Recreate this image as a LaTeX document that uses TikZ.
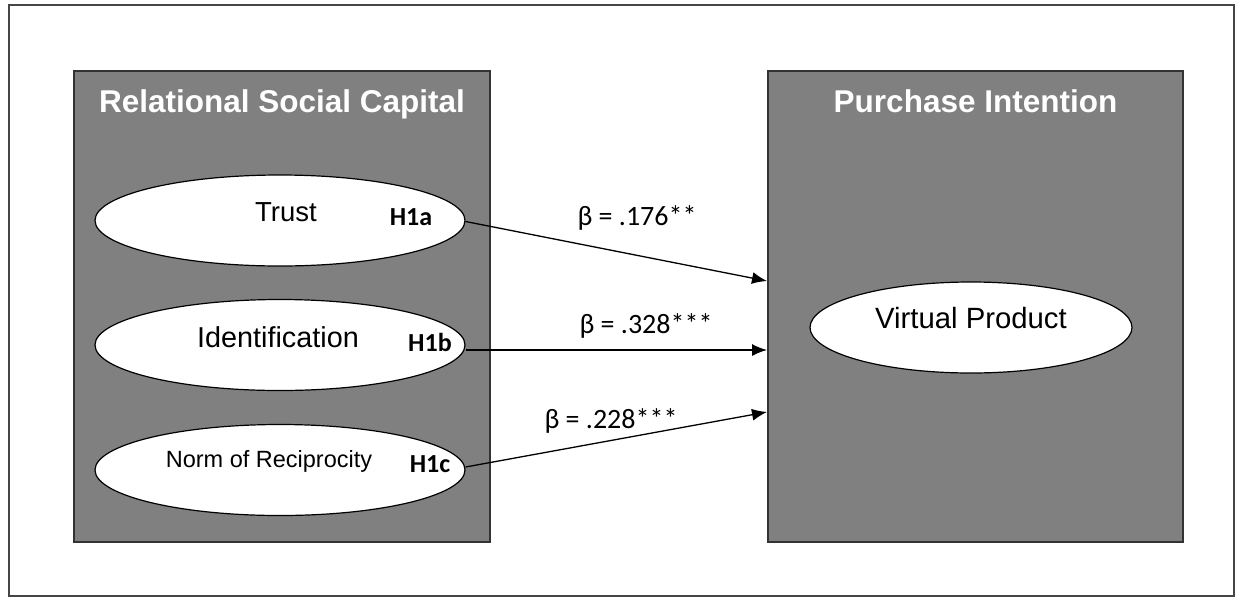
\documentclass[tikz,border=0pt]{standalone}
\usepackage{fontspec}
\setmainfont{Liberation Sans}
\newfontfamily\calfont{Carlito}
\usetikzlibrary{shapes.geometric,arrows.meta}
\definecolor{boxgray}{HTML}{808080}
\definecolor{edgegray}{HTML}{333333}
\definecolor{framegray}{HTML}{454545}
\tikzset{
  panel/.style={draw=edgegray, line width=2pt, fill=boxgray, inner sep=0pt, minimum width=416pt, minimum height=471pt},
  oval/.style={ellipse, draw=black, line width=1.2pt, fill=white, inner sep=0pt, minimum height=91pt},
  title/.style={anchor=base, inner sep=0pt, text=white, font=\fontsize{31.5}{36}\selectfont\bfseries},
  lbl/.style={anchor=base, inner sep=0pt, text=black},
  hyp/.style={anchor=base, inner sep=0pt, font=\calfont\fontsize{26}{30}\selectfont\bfseries},
  beta/.style={anchor=base, inner sep=0pt, font=\calfont\fontsize{28}{32}\selectfont},
  link/.style={draw=black, line width=1.3pt, -{Latex[length=15pt,width=12pt]}}
}
\begin{document}
\begin{tikzpicture}[x=1pt,y=-1pt]
\useasboundingbox (0,0) rectangle (1239,598);
\node[draw=framegray, line width=2pt, minimum width=1225pt, minimum height=591pt, inner sep=0pt] (frame) at (621.5,300.5) {};
% panels
\node[panel] (rsc) at (282,306.5) {};
\node[panel, minimum width=415pt] (pi) at (975.5,306.5) {};
\node[title] (rsct) at (282,112) {Relational Social Capital};
\node[title] (pit) at (975.5,112) {Purchase Intention};
% ovals
\node[oval, minimum width=370pt] (t) at (280,220.5) {};
\node[oval, minimum width=370pt] (i) at (280,345) {};
\node[oval, minimum width=370pt] (n) at (280,470) {};
\node[oval, minimum width=322pt] (v) at (971,327.5) {};
% oval texts
\node[lbl, font=\fontsize{27.5}{32}\selectfont] (tt) at (286,221) {Trust};
\node[lbl, font=\fontsize{28.8}{34}\selectfont] (it) at (278,347) {Identification};
\node[lbl, font=\fontsize{23.5}{28}\selectfont] (nt) at (269,467) {Norm of Reciprocity};
\node[lbl, font=\fontsize{29.3}{34}\selectfont] (vt) at (971,328) {Virtual Product};
\node[hyp] (h1a) at (411,225.5) {H1a};
\node[hyp] (h1b) at (430,351) {H1b};
\node[hyp] (h1c) at (430,472) {H1c};
% arrow ends on the right panel
\coordinate (e1) at (767,281);
\coordinate (e2) at (767,350);
\coordinate (e3) at (767,412);
\draw[link] ([yshift=-1pt]t.east) -- (e1);
\draw[link] ([yshift=-5pt]i.east) -- (e2);
\draw[link] ([yshift=3pt]n.east) -- (e3);
\node[beta] (b1) at (637,225) {β = .176**};
\node[beta] (b2) at (646,333) {β = .328***};
\node[beta] (b3) at (611,428) {β = .228***};
\end{tikzpicture}
\end{document}
